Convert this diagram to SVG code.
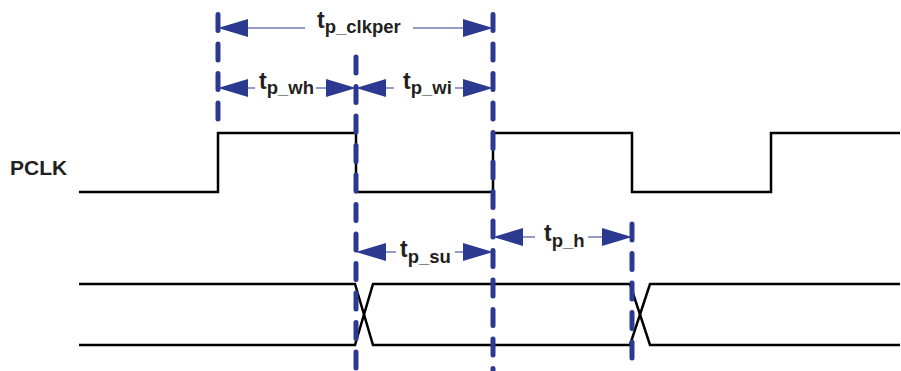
<svg xmlns="http://www.w3.org/2000/svg" width="901" height="371" viewBox="0 0 901 371">
<defs>
<style>
.dash{stroke:#2b3990;stroke-width:5;stroke-dasharray:16 13.5;stroke-linecap:round;fill:none}
.dim{stroke:#2b3990;stroke-width:1.2;fill:none}
.ah{fill:#2b3990}
.wave{stroke:#000;stroke-width:2.5;fill:none;stroke-linejoin:miter}
.lbl{font-family:"Liberation Sans",Arial,sans-serif;font-weight:bold;fill:#231f20}
.t{font-size:23px}
.sub{font-size:18.5px}
</style>
</defs>
<rect width="901" height="371" fill="#fff"/>
<g id="waveforms">
<path class="wave" d="M79,192 H218 V133 H356 V192 H493 V133 H632 V192 H771 V133 H900"/>
<path class="wave" d="M79,284 H355 L373,345 H630 L650,284 H900"/>
<path class="wave" d="M79,345 H355 L373,284 H630 L650,345 H900"/>
</g>
<g id="guides">
<line class="dash" x1="218" y1="14.5" x2="218" y2="122"/>
<line class="dash" x1="356" y1="57" x2="356" y2="371"/>
<line class="dash" x1="493" y1="14.5" x2="493" y2="371"/>
<line class="dash" x1="632" y1="224" x2="632" y2="371"/>
</g>
<g id="connectors">
<path class="dim" d="M246,28 H305 M413,28 H465"/>
<polygon class="ah" points="218,28 248,19 248,37"/>
<polygon class="ah" points="493,28 463,19 463,37"/>
<path class="dim" d="M246,88 H255 M316,88 H330"/>
<polygon class="ah" points="218,88 248,79 248,97"/>
<polygon class="ah" points="356,88 326,79 326,97"/>
<path class="dim" d="M384,88 H394 M455,88 H465"/>
<polygon class="ah" points="356,88 386,79 386,97"/>
<polygon class="ah" points="493,88 463,79 463,97"/>
<path class="dim" d="M384,252 H396 M455,252 H465"/>
<polygon class="ah" points="356,252 386,243 386,261"/>
<polygon class="ah" points="493,252 463,243 463,261"/>
<path class="dim" d="M521,237 H535 M588,237 H604"/>
<polygon class="ah" points="493,237 523,228 523,246"/>
<polygon class="ah" points="632,237 602,228 602,246"/>
</g>
<g id="label-pclk"><text class="lbl" x="10" y="175" font-size="21">PCLK</text></g>
<g id="label-clkper"><text class="lbl t" x="317" y="28">t<tspan class="sub" dy="5">p_clkper</tspan></text></g>
<g id="label-wh"><text class="lbl t" x="259" y="89">t<tspan class="sub" dy="5">p_wh</tspan></text></g>
<g id="label-wi"><text class="lbl t" x="403" y="89">t<tspan class="sub" dy="5">p_wi</tspan></text></g>
<g id="label-su"><text class="lbl t" x="400" y="257">t<tspan class="sub" dy="6">p_su</tspan></text></g>
<g id="label-h"><text class="lbl t" x="544" y="241">t<tspan class="sub" dy="6">p_h</tspan></text></g>
</svg>
